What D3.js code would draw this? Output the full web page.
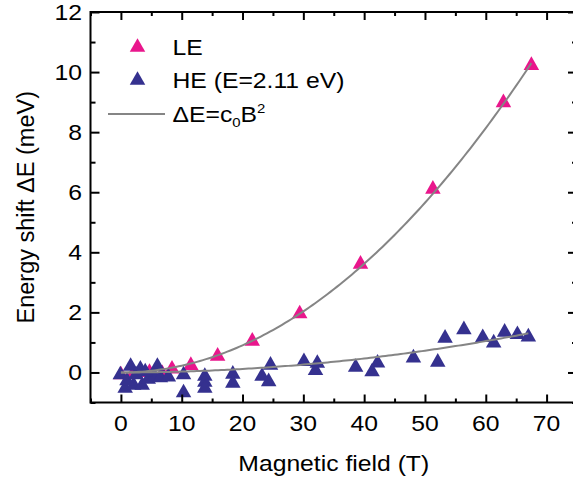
<!DOCTYPE html>
<html><head><meta charset="utf-8">
<script src="https://cdn.jsdelivr.net/npm/d3@7"></script>
<style>body{margin:0;background:#fff}svg{display:block;font-family:"Liberation Sans",Arial,sans-serif}</style>
</head><body>
<script>
// LE points
const leB = [0, 2.0, 4.7, 6.8, 8.4, 11.5, 15.9, 21.6, 29.4, 39.4, 51.3, 62.9, 67.5];
const leE = [0.0, 0.02, 0.08, 0.04, 0.19, 0.31, 0.62, 1.12, 2.03, 3.68, 6.18, 9.06, 10.3];
// HE points
const heB = [-0.1, 1.6, 3.2, 6.0, 0.7, 2.1, 3.5, 1.0, 4.5, 5.5, 2.5, 4.0, 6.5, 7.8, 10.3, 10.3, 13.8, 13.8, 13.8, 18.4, 18.4, 24.6, 24.3, 23.2, 30.1, 32.3, 32.0, 38.6, 42.2, 41.3, 48.1, 52.1, 53.3, 56.4, 59.5, 61.3, 63.1, 65.2, 67.0];
const heE = [0.0, 0.28, 0.19, 0.28, -0.45, -0.35, -0.35, -0.2, -0.15, -0.05, 0.0, 0.1, -0.1, -0.07, 0.0, -0.6, -0.05, -0.25, -0.45, 0.02, -0.28, 0.32, -0.23, -0.05, 0.44, 0.38, 0.14, 0.25, 0.39, 0.1, 0.56, 0.42, 1.22, 1.5, 1.24, 1.06, 1.42, 1.34, 1.26];
// fit coefficients c0 and B range
const fitC = [0.00226, 0.00029];
const fitBmax = [67.5, 67.0];
const xTicks = [0, 10, 20, 30, 40, 50, 60, 70];
const yTicks = [0, 2, 4, 6, 8, 10, 12];
const legendLabels = ["LE", "HE (E=2.11 eV)"];

const W = 573, H = 482;
const L = 90.5, R = 577, T = 12, B = 402.5;
const pink = "#E9168C", navy = "#35318F", gray = "#858585";
const fs = 21.5, SX = 1.15;

const svg = d3.select("body").append("svg").attr("width", W).attr("height", H);
const x = d3.scaleLinear().domain([-5, 75]).range([L, R]);
const y = d3.scaleLinear().domain([-1, 12]).range([B, T]);

function triPath(w){
  const h = w*0.88;
  return `M0,${-h/2}L${w/2},${h/2}L${-w/2},${h/2}Z`;
}
function htext(parent, px, py, anchor, str){
  return parent.append("g").attr("transform",`translate(${px},${py}) scale(${SX},1)`)
    .append("text").attr("text-anchor",anchor).attr("font-size",fs).attr("fill","#000").text(str);
}

// points LE
svg.append("g").selectAll("path").data(leB.map((b,i)=>[b,leE[i]])).join("path")
  .attr("d", triPath(15.5)).attr("fill", pink)
  .attr("transform", d=>`translate(${x(d[0])},${y(d[1])})`);
// points HE
svg.append("g").selectAll("path").data(heB.map((b,i)=>[b,heE[i]])).join("path")
  .attr("d", triPath(15.5)).attr("fill", navy)
  .attr("transform", d=>`translate(${x(d[0])},${y(d[1])})`);

// fit curves
const line = d3.line().x(d=>x(d[0])).y(d=>y(d[1]));
fitC.forEach((c,k)=>{
  const pts = d3.range(0, fitBmax[k]+0.001, 0.5).map(b=>[b, c*b*b]);
  svg.append("path").attr("d", line(pts)).attr("fill","none").attr("stroke", gray).attr("stroke-width", 2);
});

// axes (ticks inward)
const minorX = d3.range(-5, 76, 5), minorY = d3.range(-1, 12.01, 1);
function ticks(gen, tr){
  svg.append("g").attr("transform",tr).call(gen.tickFormat("").tickSizeOuter(0))
    .call(g=>g.select(".domain").remove()).call(g=>g.selectAll("line").attr("stroke","#000").attr("stroke-width",2));
}
ticks(d3.axisTop(x).tickValues(minorX.filter(v=>v%10!==0)).tickSize(4), `translate(0,${B})`);
ticks(d3.axisTop(x).tickValues(xTicks).tickSize(8), `translate(0,${B})`);
ticks(d3.axisBottom(x).tickValues(minorX.filter(v=>v%10!==0)).tickSize(4), `translate(0,${T})`);
ticks(d3.axisBottom(x).tickValues(xTicks).tickSize(8), `translate(0,${T})`);
ticks(d3.axisRight(y).tickValues(minorY.filter(v=>v%2!==0)).tickSize(5), `translate(${L},0)`);
ticks(d3.axisRight(y).tickValues(yTicks).tickSize(9), `translate(${L},0)`);
ticks(d3.axisLeft(y).tickValues(minorY.filter(v=>v%2!==0)).tickSize(5), `translate(${R},0)`);
ticks(d3.axisLeft(y).tickValues(yTicks).tickSize(9), `translate(${R},0)`);

const xl = svg.append("g");
xTicks.forEach(v=>htext(xl, x(v), 430.5, "middle", v));
const yl = svg.append("g");
yTicks.forEach(v=>htext(yl, 82, y(v)+7.7, "end", v));

// frame
svg.append("rect").attr("x",L).attr("y",T).attr("width",R-L).attr("height",B-T)
  .attr("fill","none").attr("stroke","#000").attr("stroke-width",2);

// titles
htext(svg, (L+R)/2, 471, "middle", "Magnetic field (T)");
svg.append("text").attr("transform",`translate(33.5,${(T+B)/2}) rotate(-90)`).attr("text-anchor","middle").attr("font-size",23.5).text("Energy shift \u0394E (meV)");

// legend
const lg = svg.append("g");
[[pink,45],[navy,78]].forEach((d,i)=>{
  lg.append("path").attr("d", triPath(15.5)).attr("fill", d[0]).attr("transform",`translate(137.5,${d[1]})`);
  htext(lg, 172.5, d[1]+10, "start", legendLabels[i]);
});
lg.append("line").attr("x1",108).attr("x2",165).attr("y1",114).attr("y2",114).attr("stroke",gray).attr("stroke-width",2);
const t3 = htext(lg, 172.5, 122, "start", "");
t3.append("tspan").text("\u0394E=c");
t3.append("tspan").attr("font-size",13).attr("dy",5).text("0");
t3.append("tspan").attr("dy",-5).text("B");
t3.append("tspan").attr("font-size",13).attr("dy",-9).text("2");
</script>
</body></html>
